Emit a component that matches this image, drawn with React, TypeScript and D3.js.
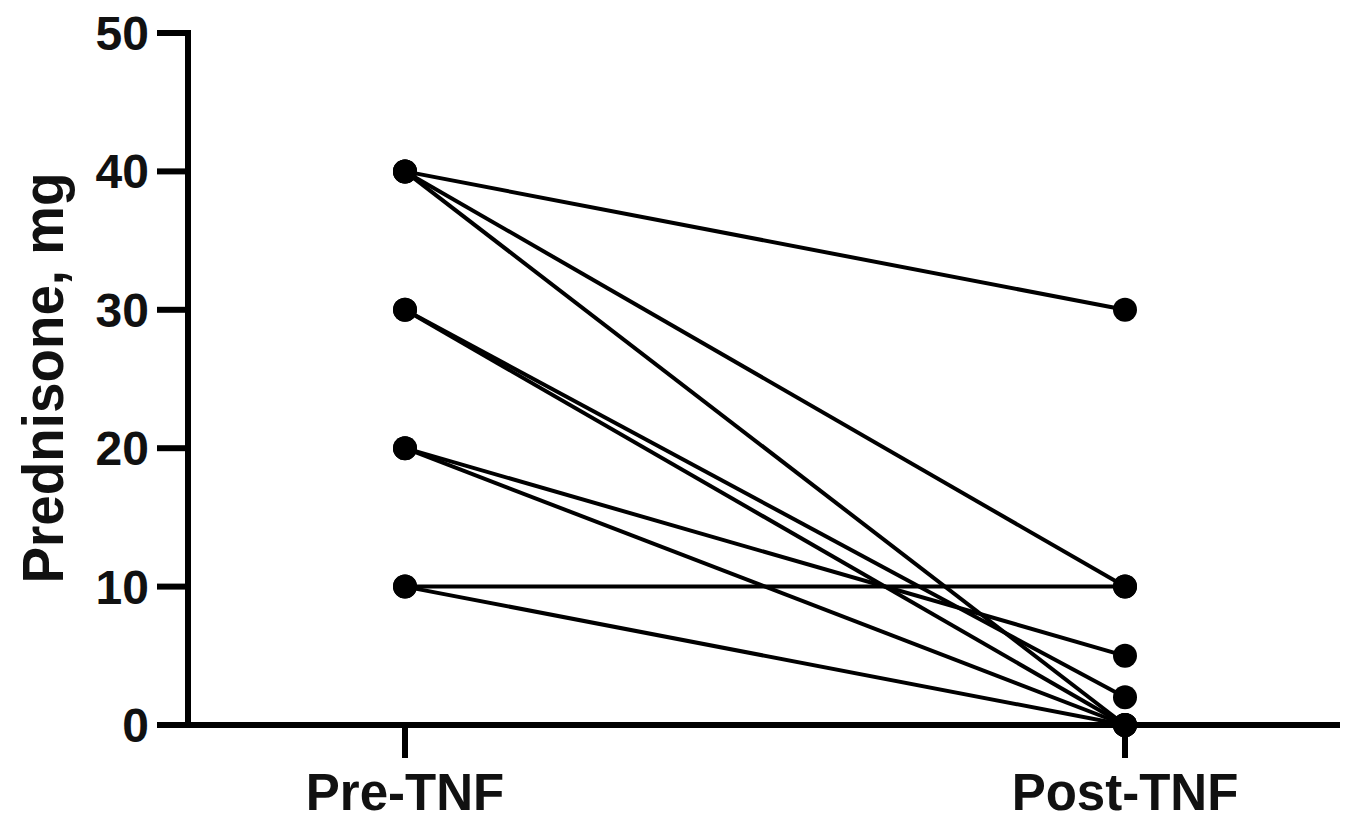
import React, { useEffect, useRef } from 'react'
import * as d3 from 'd3'

// groups on the x axis
const groups = ['Pre-TNF', 'Post-TNF']
// one entry per patient: dose before and after TNF
const preValues = [40, 40, 40, 30, 30, 20, 20, 10, 10]
const postValues = [30, 10, 0, 2, 0, 5, 0, 10, 0]
const yTicks = [0, 10, 20, 30, 40, 50]

const W = 1350
const H = 821
const FONT = '"Liberation Sans", Arial, Helvetica, sans-serif'

export default function App () {
  const ref = useRef<SVGSVGElement>(null)

  useEffect(() => {
    const svg = d3.select(ref.current)
    svg.selectAll('*').remove()

    const x = d3.scalePoint<string>().domain(groups).range([405, 1125])
    const y = d3.scaleLinear().domain([0, 50]).range([725, 33])
    const axisX = 188

    svg.append('rect').attr('width', W).attr('height', H).attr('fill', '#fff')

    // y axis
    const ya = svg.append('g')
    ya.append('line')
      .attr('x1', axisX).attr('x2', axisX)
      .attr('y1', y(50) - 3).attr('y2', y(0) + 3)
      .attr('stroke', '#000').attr('stroke-width', 6)
    ya.selectAll('line.tick')
      .data(yTicks)
      .join('line')
      .attr('class', 'tick')
      .attr('x1', 157).attr('x2', axisX)
      .attr('y1', d => y(d)).attr('y2', d => y(d))
      .attr('stroke', '#000').attr('stroke-width', 6)
    ya.selectAll('text')
      .data(yTicks)
      .join('text')
      .attr('x', 149)
      .attr('y', d => y(d) + 17)
      .attr('text-anchor', 'end')
      .attr('font-family', FONT)
      .attr('font-weight', 'bold')
      .attr('font-size', 48)
      .attr('fill', '#111')
      .text(d => d)

    // y title
    svg.append('text')
      .attr('transform', 'translate(63, 378) rotate(-90)')
      .attr('text-anchor', 'middle')
      .attr('font-family', FONT)
      .attr('font-weight', 'bold')
      .attr('font-size', 58)
      .attr('textLength', 411)
      .attr('lengthAdjust', 'spacingAndGlyphs')
      .attr('fill', '#111')
      .text('Prednisone, mg')

    // x axis
    const xa = svg.append('g')
    xa.append('line')
      .attr('x1', axisX - 3).attr('x2', 1340)
      .attr('y1', y(0)).attr('y2', y(0))
      .attr('stroke', '#000').attr('stroke-width', 6)
    xa.selectAll('line.tick')
      .data(groups)
      .join('line')
      .attr('class', 'tick')
      .attr('x1', d => x(d)).attr('x2', d => x(d))
      .attr('y1', y(0)).attr('y2', 758)
      .attr('stroke', '#000').attr('stroke-width', 6)
    xa.selectAll('text')
      .data(groups)
      .join('text')
      .attr('x', d => x(d))
      .attr('y', 810)
      .attr('text-anchor', 'middle')
      .attr('font-family', FONT)
      .attr('font-weight', 'bold')
      .attr('font-size', 51)
      .attr('fill', '#111')
      .text(d => d)

    const pairs = preValues.map((v, i) => [v, postValues[i]])

    // connecting lines
    svg.append('g')
      .selectAll('line')
      .data(pairs)
      .join('line')
      .attr('x1', x(groups[0])).attr('x2', x(groups[1]))
      .attr('y1', d => y(d[0])).attr('y2', d => y(d[1]))
      .attr('stroke', '#000').attr('stroke-width', 4)

    // dots
    const dots = svg.append('g')
    pairs.forEach(d => {
      groups.forEach((g, j) => {
        dots.append('circle')
          .attr('cx', x(g))
          .attr('cy', y(d[j]))
          .attr('r', 12)
          .attr('fill', '#000')
      })
    })
  }, [])

  return (
    <svg ref={ref} width={W} height={H} style={{ position: 'absolute', left: 0, top: 0 }} />
  )
}
